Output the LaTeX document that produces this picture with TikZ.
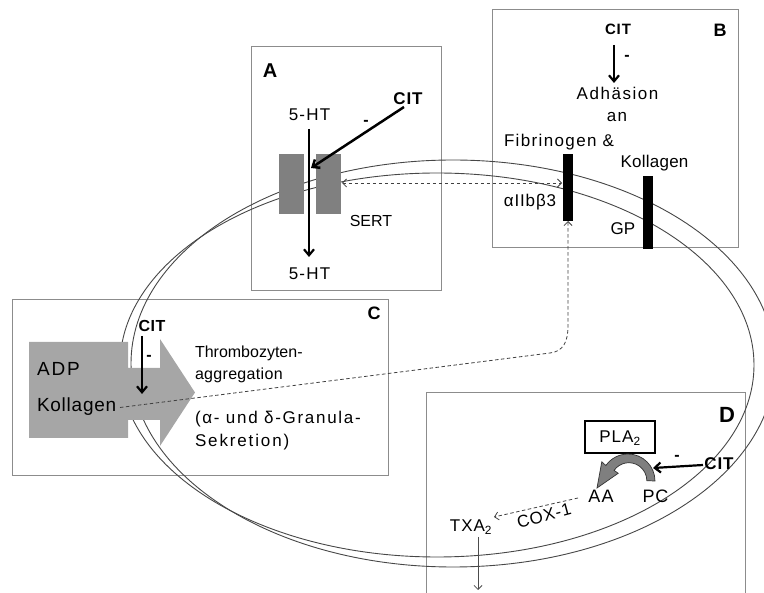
\documentclass[tikz,border=0pt]{standalone}
\usepackage{fontspec}
\setmainfont{Liberation Sans}
\usetikzlibrary{arrows.meta}
\definecolor{sertgray}{HTML}{808080}
\definecolor{arrowgray}{HTML}{A6A6A6}
\definecolor{plagray}{HTML}{7F7F7F}
\begin{document}
\begin{tikzpicture}[x=1pt,y=-1pt,
  every node/.style={inner sep=0pt, outer sep=0pt, anchor=base, font=\fontsize{16}{19}\selectfont},
  ts/.style 2 args={font=\fontsize{#1}{#1}\selectfont\addfontfeatures{LetterSpace=#2}},
  bts/.style 2 args={font=\fontsize{#1}{#1}\selectfont\bfseries\addfontfeatures{LetterSpace=#2}},
  panel/.style={draw=black!45, line width=0.9pt},
  memb/.style={draw=black!72, line width=0.9pt},
  bigarrow/.style={line width=2.2pt, -{Straight Barb[length=6pt,width=10pt]}},
  dasharrow/.style={draw=black!75, line width=0.8pt, dash pattern=on 3.5pt off 2.5pt},
  thinarrow/.style={draw=black!70, line width=0.8pt, -{Straight Barb[length=4pt,width=8pt]}},
  blockbar/.style={fill=#1, draw=none, anchor=center},
]
\useasboundingbox (0,0) rectangle (764,593);

% panels
\draw[panel] (251,46) rectangle (441,290);
\draw[panel] (492,9) rectangle (738,247);
\draw[panel] (12,299) rectangle (388,475);
\draw[panel] (426,594) -- (426,392) -- (745,392) -- (745,594);

% membrane (two ellipses)
\draw[memb] (437,365) ellipse [x radius=317pt, y radius=192pt];
\draw[memb] (453,363.5) ellipse [x radius=322pt, y radius=203.5pt];

% ---------- panel A ----------
\node[bts={20}{0}] (labA) at (270,78) {A};
\node[ts={17}{7}] (htin) at (309.5,121) {5-HT};
\node[bts={17}{5}] (citA) at (408,105) {CIT};
\node[bts={16}{0}] (minA) at (366,126) {-};
\node[ts={16}{0}] (sert) at (371,227) {SERT};
\node[ts={17}{7}] (htout) at (309.5,280) {5-HT};
\node[blockbar=sertgray, minimum width=25pt, minimum height=60pt] (sertL) at (291.5,184) {};
\node[blockbar=sertgray, minimum width=25pt, minimum height=60pt] (sertR) at (328.5,184) {};
\coordinate (htA1) at (309,129);
\coordinate (htA2) at (309,257);
\coordinate (citA1) at (404,107);
\coordinate (citA2) at (311,168);
\draw[bigarrow] (htA1) -- (htA2);
\draw[bigarrow, line width=2.5pt] (citA1) -- (citA2);

% ---------- panel B ----------
\node[bts={18}{0}] (labB) at (720,37) {B};
\node[bts={15}{6}] (citB) at (618,35) {CIT};
\node[bts={16}{0}] (minB) at (627,61) {-};
\node[ts={17}{9}] (adh) at (617.5,100) {Adhäsion};
\node[ts={17}{9}] (an) at (617,121.5) {an};
\node[ts={17}{8}] (fib) at (559,147) {Fibrinogen \&};
\node[ts={17}{1.5}] (kolB) at (654.5,168) {Kollagen};
\node[ts={17}{5}] (itg) at (530,207) {αIIbβ3};
\node[ts={17}{0}] (gp) at (623,235) {GP};
\node[blockbar=black, minimum width=10pt, minimum height=67pt] (barA) at (568,187.5) {};
\node[blockbar=black, minimum width=10pt, minimum height=73pt] (barB) at (648,212.5) {};
\coordinate (citB1) at (614,45);
\coordinate (citB2) at (614,83);
\draw[bigarrow] (citB1) -- (citB2);

% dashed double arrow SERT <-> alphaIIbbeta3
\coordinate (dl) at (342,183);
\coordinate (dr) at (562,183);
\draw[dasharrow, {Straight Barb[length=4pt,width=8pt]}-{Straight Barb[length=4pt,width=8pt]}] (dl) -- (dr);

% ---------- panel C ----------
\fill[arrowgray] (29,342) -- (128,342) -- (128,368) -- (160,368) -- (160,339)
  -- (195,392.5) -- (160,446) -- (160,420) -- (128,420) -- (128,438) -- (29,438) -- cycle;
\node[bts={18}{0}] (labC) at (374,320) {C};
\node[bts={16}{3}] (citC) at (152,332) {CIT};
\node[bts={16}{0}] (minC) at (149,361) {-};
\node[ts={19}{10}, anchor=base west] (adp) at (37,376) {ADP};
\node[ts={19}{4}, anchor=base west] (kolC) at (37,411.5) {Kollagen};
\node[ts={16}{0}, anchor=base west] (thr) at (195,357.5) {Thrombozyten-};
\node[ts={16}{2}, anchor=base west] (agg) at (195,379.5) {aggregation};
\node[ts={17}{10}, anchor=base west] (gran) at (195,424) {(α- und δ-Granula-};
\node[ts={17}{11}, anchor=base west] (sek) at (195,447) {Sekretion)};
\coordinate (citC1) at (142,336);
\coordinate (citC2) at (142,394);
\draw[bigarrow] (citC1) -- (citC2);

% dashed Kollagen -> alphaIIbbeta3
\coordinate (kc) at (120,407.5);
\draw[dasharrow, -{Straight Barb[length=4pt,width=8pt]}] (kc) -- (550,353)
  .. controls (563,351.5) and (568,342) .. (568,326) -- (barA.south);

% ---------- panel D ----------
\node[bts={22}{0}] (labD) at (727,423) {D};
\node[draw, line width=1.3pt, minimum width=70pt, minimum height=32pt, anchor=center] (pla) at (620,437) {};
\node[ts={17}{6}] (platext) at (620,443) {PLA\textsubscript{2}};
\node[bts={17}{5}] (citD) at (719,470) {CIT};
\node[bts={16}{0}] (minD) at (677,461) {-};
\node[ts={18}{7}] (aa) at (601,503) {AA};
\node[ts={18}{3}] (pc) at (655.5,503) {PC};
\node[ts={17}{6}] (txa) at (471,531.5) {TXA\textsubscript{2}};
\node[ts={17}{5}, rotate=15, anchor=center] (cox) at (544,516) {COX-1};
\filldraw[fill=plagray, draw=black!80, line width=0.7pt]
  (655,481) arc[start angle=0, end angle=145, radius=27pt]
  -- (601.8,461.8) -- (597,488) -- (618.2,473.3) -- (614.1,470.4)
  arc[start angle=145, end angle=0, radius=18pt] -- cycle;
\coordinate (citD1) at (703,465);
\coordinate (citD2) at (653,468);
\draw[bigarrow] (citD1) -- (citD2);
\coordinate (aa1) at (578,498);
\coordinate (tx1) at (494,517);
\draw[dasharrow, -{Straight Barb[length=4pt,width=8pt]}] (aa1) -- (tx1);
\coordinate (tx2) at (478,537);
\coordinate (tx3) at (478,590);
\draw[thinarrow] (tx2) -- (tx3);
\end{tikzpicture}
\end{document}
